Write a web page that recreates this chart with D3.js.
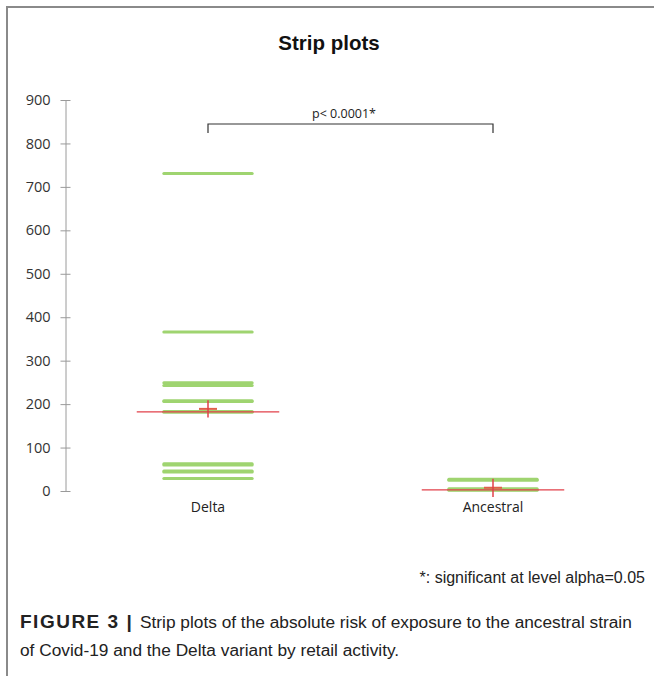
<!DOCTYPE html>
<html>
<head>
<meta charset="utf-8" />
<script src="https://cdn.jsdelivr.net/npm/d3@7"></script>
<style>
body { margin: 0; background: #fff; }
svg { display: block; }
.tick text { font-family: "Open Sans", sans-serif; font-size: 14.5px; fill: #333; }
</style>
</head>
<body>
<svg id="chart" width="654" height="676"></svg>
<script>
// data
var groups = ["Delta", "Ancestral"];
var deltaValues = [731, 366, 249, 243, 208, 206, 183, 181, 63, 60, 46, 44, 29];
var ancestralValues = [27, 25, 5, 3, 2];
var medianValues = [182, 2.5];
var meanValues = [189, 7.5];
var ciLow = [169, -14];
var ciHigh = [209, 28];
var yTicks = [0, 100, 200, 300, 400, 500, 600, 700, 800, 900];
var pText = "p< 0.0001*";

var svg = d3.select("#chart");

// frame (top + left only)
svg.append("path")
    .attr("d", "M7,676 V7 H654")
    .attr("fill", "none")
    .attr("stroke", "#8a8a8a")
    .attr("stroke-width", 2);

var y = d3.scaleLinear().domain([0, 900]).range([491, 100]);
var x = d3.scaleBand().domain(groups).range([65.5, 635.5]);
var cx = function(g) { return x(g) + x.bandwidth() / 2; };
var step = x.bandwidth();

// title
svg.append("text")
    .attr("x", 329).attr("y", 50)
    .attr("text-anchor", "middle")
    .style("font-family", "'Liberation Sans', Arial, sans-serif")
    .style("font-weight", "bold")
    .style("font-size", "20.5px")
    .attr("fill", "#111")
    .text("Strip plots");

// y axis with crossing ticks
var yAxis = svg.append("g")
    .attr("transform", "translate(65.5,0)")
    .call(d3.axisLeft(y).tickValues(yTicks).tickSize(5).tickSizeOuter(0).tickPadding(10));
yAxis.select(".domain").attr("stroke", "#9a9a9a");
yAxis.selectAll(".tick line").attr("x1", 5).attr("stroke", "#9a9a9a");

// category labels
svg.selectAll(".cat")
    .data(groups)
    .enter().append("text")
    .attr("class", "cat")
    .attr("x", cx)
    .attr("y", 512)
    .attr("text-anchor", "middle")
    .style("font-family", "'Open Sans', sans-serif")
    .style("font-size", "14px")
    .attr("fill", "#222")
    .text(function(d) { return d; });

// strips
var strips = [];
deltaValues.forEach(function(v) { strips.push({g: "Delta", v: v}); });
ancestralValues.forEach(function(v) { strips.push({g: "Ancestral", v: v}); });

svg.selectAll(".strip")
    .data(strips)
    .enter().append("line")
    .attr("class", "strip")
    .attr("x1", function(d) { return cx(d.g) - step * 0.155; })
    .attr("x2", function(d) { return cx(d.g) + step * 0.155; })
    .attr("y1", function(d) { return y(d.v); })
    .attr("y2", function(d) { return y(d.v); })
    .attr("stroke", "#9fd470")
    .attr("stroke-width", 3)
    .attr("stroke-linecap", "round");

// median lines
svg.selectAll(".median")
    .data(groups)
    .enter().append("line")
    .attr("x1", function(d) { return cx(d) - step * 0.25; })
    .attr("x2", function(d) { return cx(d) + step * 0.25; })
    .attr("y1", function(d, i) { return y(medianValues[i]); })
    .attr("y2", function(d, i) { return y(medianValues[i]); })
    .attr("stroke", "#e2404a")
    .attr("stroke-width", 1.2);

// mean crosses
svg.selectAll(".mean")
    .data(groups)
    .enter().append("line")
    .attr("x1", function(d) { return cx(d) - 9; })
    .attr("x2", function(d) { return cx(d) + 9; })
    .attr("y1", function(d, i) { return y(meanValues[i]); })
    .attr("y2", function(d, i) { return y(meanValues[i]); })
    .attr("stroke", "#e0604a")
    .attr("stroke-width", 2);

svg.selectAll(".ci")
    .data(groups)
    .enter().append("line")
    .attr("x1", cx).attr("x2", cx)
    .attr("y1", function(d, i) { return y(ciLow[i]); })
    .attr("y2", function(d, i) { return y(ciHigh[i]); })
    .attr("stroke", "#e2404a")
    .attr("stroke-width", 1.5);

// significance bracket
var bTop = 124, bEnd = 133;
svg.append("path")
    .attr("d", "M" + cx(groups[0]) + "," + bEnd + " V" + bTop + " H" + cx(groups[1]) + " V" + bEnd)
    .attr("fill", "none")
    .attr("stroke", "#333")
    .attr("stroke-width", 1.2);
svg.append("text")
    .attr("x", 344).attr("y", 118)
    .attr("text-anchor", "middle")
    .style("font-family", "'Open Sans', sans-serif")
    .style("font-size", "12.5px")
    .attr("fill", "#222")
    .text(pText);

// footnote
svg.append("text")
    .attr("x", 645).attr("y", 583)
    .attr("text-anchor", "end")
    .style("font-family", "'Liberation Sans', Arial, sans-serif")
    .style("font-size", "16px")
    .attr("fill", "#222")
    .text("*: significant at level alpha=0.05");

// caption
var cap = svg.append("text")
    .style("font-family", "'Liberation Sans', Arial, sans-serif")
    .style("font-size", "17.3px")
    .attr("fill", "#222");
var l1 = cap.append("tspan").attr("x", 20).attr("y", 628);
l1.append("tspan").style("font-weight", "bold").style("font-size", "19px")
    .style("letter-spacing", "1.5px").text("FIGURE 3 | ");
l1.append("tspan").text("Strip plots of the absolute risk of exposure to the ancestral strain");
cap.append("tspan").attr("x", 20).attr("y", 656)
    .text("of Covid-19 and the Delta variant by retail activity.");
</script>
</body>
</html>
